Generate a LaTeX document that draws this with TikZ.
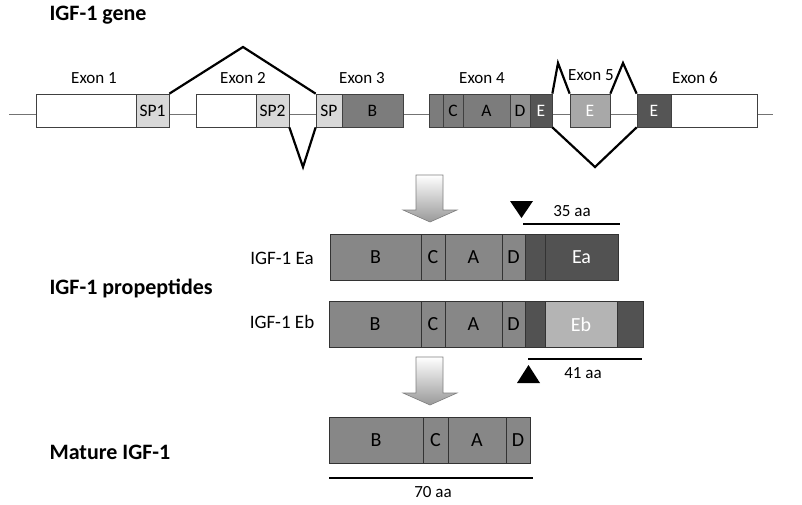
\documentclass[tikz,border=0pt]{standalone}
\usepackage{fontspec}
\setmainfont{Carlito}
\definecolor{splight}{HTML}{D8D8D8}
\definecolor{exmid}{HTML}{7C7C7C}
\definecolor{exdark}{HTML}{555555}
\definecolor{exlight}{HTML}{A8A8A8}
\definecolor{segmid}{HTML}{878787}
\definecolor{segdark}{HTML}{525252}
\definecolor{seglight}{HTML}{B4B4B4}

\begin{document}
\begin{tikzpicture}[x=1pt, y=-1pt,
    exon/.style={draw=black!75, line width=0.7pt, inner sep=0pt, minimum height=33pt, font=\fontsize{17.5}{17.5}\selectfont},
    seg/.style={draw=black!80, line width=0.7pt, inner sep=0pt, minimum height=46pt, fill=segmid, font=\fontsize{20}{20}\selectfont},
    intron/.style={draw=black!55, line width=0.8pt},
    splice/.style={line width=2.2pt},
    lbl/.style={font=\fontsize{17}{17}\selectfont},
    head/.style={anchor=west, font=\fontsize{22}{22}\selectfont\bfseries},
    bigarrow/.style={draw=black!50, line width=0.6pt, top color=white, bottom color=black!40},
    scalebar/.style={line width=1.5pt}]
    \useasboundingbox (0,0) rectangle (802,504);

    % headings
    \node[head] (hgene) at (46,15) {IGF-1 gene};
    \node[head] (hpro) at (46,288) {IGF-1 propeptides};
    \node[head] (hmat) at (46,452) {Mature IGF-1};

    % gene
    \coordinate (gstart) at (9,114);
    \coordinate (gend) at (773,114);
    \draw[intron] (gstart) -- (gend);

    \node[exon, fill=white, minimum width=100pt] (ex1) at (86,110.5) {};
    \node[exon, fill=splight, minimum width=33pt] (sp1) at (152.5,110.5) {SP1};
    \node[exon, fill=white, minimum width=60pt] (ex2) at (226,110.5) {};
    \node[exon, fill=splight, minimum width=33pt] (sp2) at (272.5,110.5) {SP2};
    \node[exon, fill=splight, minimum width=26pt] (sp3) at (329,110.5) {SP};
    \node[exon, fill=exmid, minimum width=61pt] (b3) at (372.5,110.5) {B};
    \node[exon, fill=exmid, minimum width=14pt] (ex4) at (436,110.5) {};
    \node[exon, fill=exmid, minimum width=20pt] (c4) at (453,110.5) {C};
    \node[exon, fill=exmid, minimum width=47pt] (a4) at (486.5,110.5) {A};
    \node[exon, fill=exmid!85!white, minimum width=20pt] (d4) at (520,110.5) {D};
    \node[exon, fill=exdark, text=white, minimum width=22pt] (e4) at (541,110.5) {E};
    \node[exon, fill=exlight, text=white, minimum width=40pt] (e5) at (590,110.5) {E};
    \node[exon, fill=exdark, text=white, minimum width=34pt] (e6) at (654,110.5) {E};
    \node[exon, fill=white, minimum width=86pt] (ex6) at (714,110.5) {};

    \node[lbl] (l1) at (94,78) {Exon 1};
    \node[lbl] (l2) at (243,78) {Exon 2};
    \node[lbl] (l3) at (362,78) {Exon 3};
    \node[lbl] (l4) at (482,78) {Exon 4};
    \node[lbl] (l5) at (591,75) {Exon 5};
    \node[lbl] (l6) at (695,78) {Exon 6};

    % splicing
    \coordinate (pk1) at (243,47);
    \coordinate (pk2) at (303,167);
    \coordinate (pk3) at (558,63);
    \coordinate (pk4) at (623,63);
    \coordinate (pk5) at (595,167);
    \draw[splice] (sp1.north east) -- (pk1) -- (sp3.north west);
    \draw[splice] (sp2.south east) -- (pk2) -- (sp3.south west);
    \draw[splice] (e4.north east) -- (pk3) -- (e5.north west);
    \draw[splice] (e5.north east) -- (pk4) -- (e6.north west);
    \draw[splice] (e4.south east) -- (pk5) -- (e6.south west);

    % arrows
    \shadedraw[bigarrow] (416,175) -- (443,175) -- (443,210) -- (457,210) -- (430,222) -- (403,210) -- (416,210) -- cycle;
    \shadedraw[bigarrow] (416,357) -- (443,357) -- (443,393) -- (457,393) -- (430,405) -- (403,393) -- (416,393) -- cycle;

    % propeptide Ea
    \node[lbl, font=\fontsize{19}{19}\selectfont] (nea) at (282,258) {IGF-1 Ea};
    \node[seg, minimum width=91pt] (eab) at (375.5,257) {B};
    \node[seg, minimum width=24pt] (eac) at (433,257) {C};
    \node[seg, minimum width=57pt] (eaa) at (473.5,257) {A};
    \node[seg, minimum width=23pt] (ead) at (513.5,257) {D};
    \node[seg, fill=segdark, minimum width=20pt] (eax) at (535,257) {};
    \node[seg, fill=segdark, text=white, minimum width=73pt] (eae) at (581.5,257) {Ea};

    \fill (510,201) -- (533,201) -- (521.5,218) -- cycle;
    \coordinate (a35) at (523,224);
    \coordinate (b35) at (620,224);
    \draw[scalebar] (a35) -- (b35);
    \node[lbl] (t35) at (572,211) {35 aa};

    % propeptide Eb
    \node[lbl, font=\fontsize{19}{19}\selectfont] (neb) at (282,322) {IGF-1 Eb};
    \node[seg, minimum width=92pt] (ebb) at (375,324.5) {B};
    \node[seg, minimum width=24pt] (ebc) at (433,324.5) {C};
    \node[seg, minimum width=57pt] (eba) at (473.5,324.5) {A};
    \node[seg, minimum width=23pt] (ebd) at (513.5,324.5) {D};
    \node[seg, fill=segdark, minimum width=20pt] (ebx) at (535,324.5) {};
    \node[seg, fill=seglight, text=white, minimum width=72pt] (ebe) at (581,324.5) {Eb};
    \node[seg, fill=segdark, minimum width=26pt] (eby) at (630,324.5) {};

    \fill (517,383) -- (540,383) -- (528.5,365) -- cycle;
    \coordinate (a41) at (528,359);
    \coordinate (b41) at (642,359);
    \draw[scalebar] (a41) -- (b41);
    \node[lbl] (t41) at (583,373) {41 aa};

    % mature
    \node[seg, minimum width=94pt] (mb) at (376,440) {B};
    \node[seg, minimum width=25pt] (mc) at (435.5,440) {C};
    \node[seg, minimum width=58pt] (ma) at (477,440) {A};
    \node[seg, minimum width=24pt] (md) at (518,440) {D};

    \coordinate (a70) at (329,478);
    \coordinate (b70) at (533,478);
    \draw[scalebar] (a70) -- (b70);
    \node[lbl] (t70) at (433,492) {70 aa};
\end{tikzpicture}
\end{document}
